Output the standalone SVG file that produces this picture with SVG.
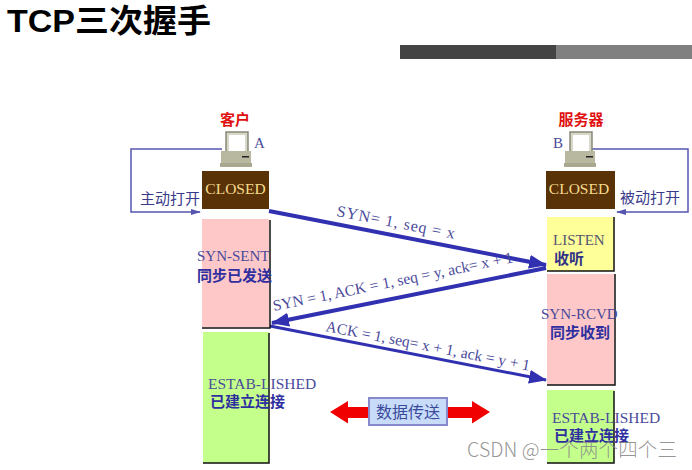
<svg xmlns="http://www.w3.org/2000/svg" width="692" height="470" viewBox="0 0 692 470">
<style>
.s{font-family:"Liberation Serif","Noto Sans CJK SC",serif;font-size:15px;fill:#4a4a9a}
.c{font-family:"Noto Sans CJK SC",sans-serif;font-size:15px;font-weight:700;fill:#2f2f9f}
.o{font-family:"Noto Sans CJK SC",sans-serif;font-size:15px;fill:#3a3a8a}
.r{font-family:"Noto Sans CJK SC",sans-serif;font-size:15px;font-weight:700;fill:#e01010}
.m{font-family:"Liberation Serif","Noto Sans CJK SC",serif;font-size:15.500px;fill:#4a4a9a}
.closed{font-family:"Liberation Serif",serif;font-size:15.500px;fill:#f5dc8c}
.b{fill:#5a3208}
.e{stroke:#111;stroke-width:1.5;fill:none}
.w{fill:none;stroke:#3030b0;stroke-width:4}
.l{fill:none;stroke:#5555b0;stroke-width:1.5}
</style>
<defs>
<marker id="big" markerUnits="userSpaceOnUse" markerWidth="18" markerHeight="14" refX="17" refY="7" orient="auto"><path d="M0 0L18 7L0 14z" fill="#3030b0"/></marker>
<marker id="sm" markerUnits="userSpaceOnUse" markerWidth="10" markerHeight="8" refX="9" refY="4" orient="auto"><path d="M0 1L10 4L0 7z" fill="#5555b0"/></marker>
<g id="pc"><rect x="16" y="1" width="22" height="23" fill="#d8d8c8" stroke="#888878" stroke-width="1.5"/><rect x="19" y="4" width="16" height="17" fill="#fff"/><rect x="11" y="20" width="30" height="12" fill="#b8b8a0"/><rect x="10" y="32" width="32" height="4" fill="#a8a890"/><rect x="32" y="25" width="7" height="1.500" fill="#222"/></g>
</defs>
<rect width="692" height="470" fill="#fff"/>
<g id="title"><text x="7" y="32" font-family="'Liberation Sans','Noto Sans CJK SC',sans-serif" font-size="32" font-weight="700" fill="#000" textLength="204" lengthAdjust="spacingAndGlyphs">TCP三次握手</text>
<rect x="400" y="45" width="156" height="14" fill="#444"/><rect x="556" y="45" width="136" height="14" fill="#808080"/></g>
<g id="connectors">
<path class="l" d="M222 149H131V212H200" marker-end="url(#sm)"/>
<path class="l" d="M592 149H688V212H617" marker-end="url(#sm)"/>
<path class="w" d="M269 211L546 265" marker-end="url(#big)"/>
<path class="w" d="M546 268L272 323" marker-end="url(#big)"/>
<path d="M270 326L546 380" fill="none" stroke="#3030b0" stroke-width="3" marker-end="url(#big)"/>
</g>
<g id="client"><text class="r" x="235" y="125" text-anchor="middle">客户</text><use href="#pc" x="210" y="131"/><text class="s" x="254" y="148">A</text></g>
<g id="server"><text class="r" x="581" y="125" text-anchor="middle">服务器</text><use href="#pc" x="554" y="131"/><text class="s" x="553" y="148">B</text></g>
<g id="closed-a"><rect class="b" x="202" y="171" width="67" height="38"/><text class="closed" x="235.500" y="194" text-anchor="middle">CLOSED</text></g>
<g id="closed-b"><rect class="b" x="546" y="171" width="69" height="38"/><text class="closed" x="579" y="194" text-anchor="middle">CLOSED</text></g>
<text class="o" x="140" y="204">主动打开</text>
<text class="o" x="620" y="203">被动打开</text>
<g id="syn-sent"><rect x="202" y="219" width="67" height="108" fill="#ffc8c8"/><path class="e" d="M270 220V328H202"/><text class="s" x="197" y="261">SYN-SENT</text><text class="c" x="197" y="281">同步已发送</text></g>
<g id="estab-a"><rect x="203" y="332" width="66" height="131" fill="#c4ff8c"/><path class="e" d="M269 333V463H203"/><text class="s" x="208" y="389" style="font-size:15.500px">ESTAB-LISHED</text><text class="c" x="210" y="407">已建立连接</text></g>
<g id="listen"><rect x="547" y="217" width="67" height="54" fill="#ffff99"/><path class="e" d="M614 217V271H547"/><text class="s" x="553" y="245" style="fill:#555570">LISTEN</text><text class="c" x="554" y="264" style="fill:#333388">收听</text></g>
<g id="syn-rcvd"><rect x="547" y="274" width="67" height="111" fill="#ffc8c8"/><path class="e" d="M615 274V385H547"/><text class="s" x="541" y="319">SYN-RCVD</text><text class="c" x="550" y="338">同步收到</text></g>
<g id="estab-b"><rect x="547" y="390" width="67" height="73" fill="#c4ff8c"/><path class="e" d="M614 391V463H547"/><text class="s" x="552" y="423" style="font-size:15.500px">ESTAB-LISHED</text><text class="c" x="554" y="441">已建立连接</text></g>
<text class="m" transform="translate(336 216) rotate(11)" style="font-size:16px;letter-spacing:.9px">SYN= 1, seq = x</text>
<text class="m" transform="translate(274 311) rotate(-11.500)">SYN = 1, ACK = 1, seq = y, ack= x + 1</text>
<text class="m" transform="translate(325 331) rotate(11)">ACK = 1, seq= x + 1, ack = y + 1</text>
<g id="data"><path d="M330 412L348 401V407H370V418H348V423.500zM448 407H472V401L490 412L472 423.500V418H448z" fill="#f00000"/><rect x="369" y="398" width="78" height="27" fill="#c8dcfa" stroke="#8888cc" stroke-width="2"/><text class="o" x="408" y="418" text-anchor="middle" style="fill:#3a4a9a;font-size:16px">数据传送</text></g>
<text x="467" y="457" font-family="'Noto Sans CJK SC',sans-serif" font-size="19.500" font-weight="300" fill="#888" fill-opacity=".9" textLength="210">CSDN @一个两个四个三</text>
</svg>
